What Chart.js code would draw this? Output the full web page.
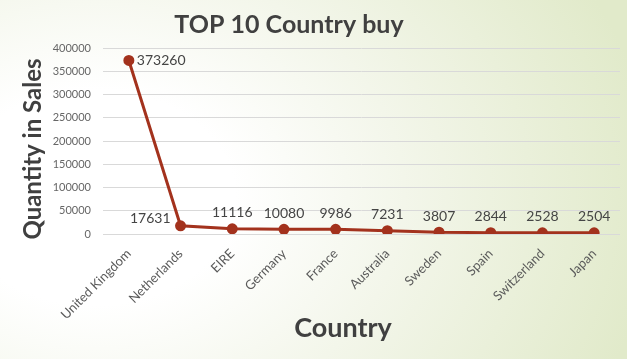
<!DOCTYPE html>
<html>
<head>
<meta charset="utf-8">
<script src="https://cdn.jsdelivr.net/npm/chart.js@4/dist/chart.umd.min.js"></script>
<style>
  html, body { margin: 0; padding: 0; }
  body {
    width: 627px; height: 359px; overflow: hidden;
    background: radial-gradient(ellipse 90% 120% at 15% 55%, #ffffff 25%, #f3f6ea 55%, #e1eaca 100%);
  }
  canvas { display: block; }
</style>
</head>
<body>
<canvas id="countryChart" width="627" height="359"></canvas>
<script>
// Data
const countries = ["United Kingdom", "Netherlands", "EIRE", "Germany", "France",
                   "Australia", "Sweden", "Spain", "Switzerland", "Japan"];
const quantities = [373260, 17631, 11116, 10080, 9986, 7231, 3807, 2844, 2528, 2504];
const yTicks = [0, 50000, 100000, 150000, 200000, 250000, 300000, 350000, 400000];

const fontFamily = "Lato, 'Open Sans', sans-serif";
const lineColor = "#a3321d";

// Chart title and axis titles, placed like the original (a bit off the plot centre)
const titlePlugin = {
    id: 'titles',
    afterDraw(chart) {
        const ctx = chart.ctx;
        ctx.save();
        ctx.fillStyle = "#404040";
        ctx.textAlign = "center";
        ctx.textBaseline = "middle";
        ctx.font = "bold 25px " + fontFamily;
        ctx.fillText("TOP 10 Country buy", 289, 25);
        ctx.font = "bold 27px " + fontFamily;
        ctx.fillText("Country", 343, 328);
        ctx.translate(33, 149);
        ctx.rotate(-Math.PI / 2);
        ctx.font = "bold 24px " + fontFamily;
        ctx.fillText("Quantity in Sales", 0, 0);
        ctx.restore();
    }
};

// Value labels next to each point
const valueLabels = {
    id: 'valueLabels',
    afterDatasetsDraw(chart) {
        const ctx = chart.ctx;
        const meta = chart.getDatasetMeta(0);
        ctx.save();
        ctx.font = "14px " + fontFamily;
        ctx.fillStyle = "#454545";
        ctx.textBaseline = "middle";
        meta.data.forEach((pt, i) => {
            const text = String(quantities[i]);
            if (i === 0) {
                ctx.textAlign = "left";
                ctx.fillText(text, pt.x + 8, pt.y);
            } else if (i === 1) {
                ctx.textAlign = "right";
                ctx.fillText(text, pt.x - 10, pt.y - 7);
            } else {
                ctx.textAlign = "center";
                ctx.fillText(text, pt.x, pt.y - 16);
            }
        });
        ctx.restore();
    }
};

const ctx = document.getElementById('countryChart').getContext('2d');

const countryChart = new Chart(ctx, {
    type: 'line',
    data: {
        labels: countries,
        datasets: [{
            label: "Quantity",
            data: quantities,
            borderColor: lineColor,
            backgroundColor: lineColor,
            borderWidth: 3,
            pointRadius: 4,
            pointBackgroundColor: lineColor,
            pointBorderColor: lineColor,
            tension: 0,
            fill: false
        }]
    },
    options: {
        responsive: false,
        animation: false,
        layout: { padding: { top: 48, right: 5, left: 0, bottom: 0 } },
        plugins: {
            legend: { display: false },
            tooltip: { enabled: false }
        },
        scales: {
            x: {
                offset: true,
                grid: { display: false, drawTicks: false },
                border: { display: false },
                ticks: {
                    color: "#5a5a5a",
                    font: { family: fontFamily, size: 13 },
                    minRotation: 45,
                    maxRotation: 45,
                    autoSkip: false,
                    padding: 12
                },
                afterFit(scale) { scale.height = 125; }
            },
            y: {
                min: 0,
                max: 400000,
                afterBuildTicks(scale) { scale.ticks = yTicks.map(v => ({ value: v })); },
                grid: { color: "#d9d9d9", lineWidth: 1, drawTicks: false },
                border: { display: false },
                ticks: {
                    color: "#666666",
                    font: { family: fontFamily, size: 11 },
                    padding: 12,
                    callback: v => String(v)
                },
                afterFit(scale) { scale.width = 103; }
            }
        }
    },
    plugins: [titlePlugin, valueLabels]
});
</script>
</body>
</html>
